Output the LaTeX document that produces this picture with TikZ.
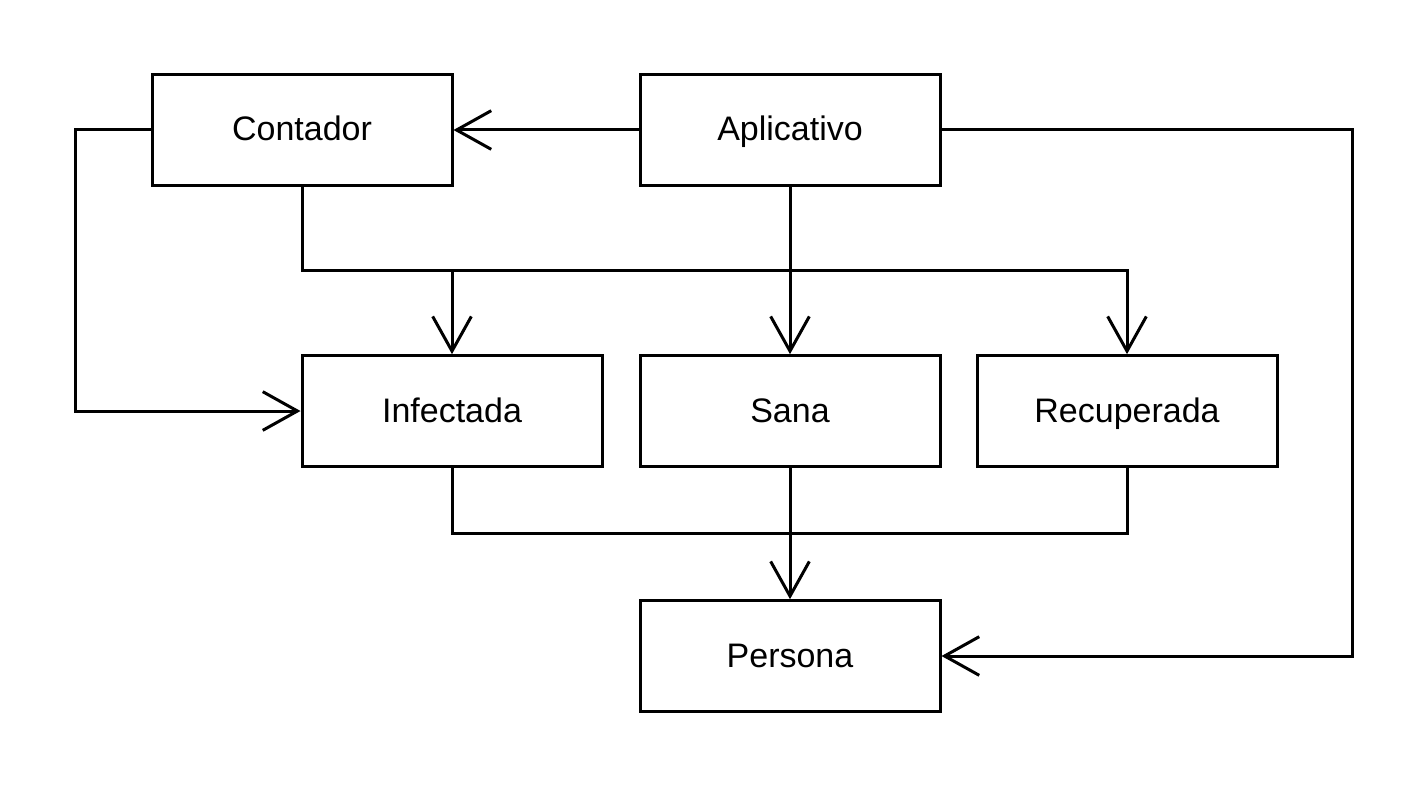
\documentclass[tikz,border=0pt]{standalone}
\usepackage{fontspec}
\setmainfont{Liberation Sans}
\usetikzlibrary{arrows.meta}
\begin{document}
\begin{tikzpicture}[x=0.75pt,y=-0.75pt,
  box/.style={draw,line width=2.25pt,rectangle,minimum width=225pt,minimum height=83pt,inner sep=0pt,text height=20pt,text depth=3.5pt,font=\fontsize{25.5}{30}\selectfont},
  wire/.style={line width=2.25pt},
  conn/.style={wire,-{Straight Barb[length=26pt,width=29pt,line width=2.25pt]}}]
\useasboundingbox (0,0) rectangle (1427,788);
\node[box] (cont) at (302,130) {Contador};
\node[box] (apl) at (790,130) {Aplicativo};
\node[box] (inf) at (452,411) {Infectada};
\node[box] (sana) at (790,411) {Sana};
\node[box] (rec) at (1127,411) {Recuperada};
\node[box] (pers) at (790,656) {Persona};
\coordinate (lft) at (75,130);
\coordinate (rgt) at (1352,130);
\coordinate (top) at (302,270);
\coordinate (bot) at (452,533);
\draw[conn] (apl.west) -- (cont.east);
\draw[conn] (cont.west) -- (lft) |- (inf.west);
\draw[conn] (cont.south) -- (top) -| (rec.north);
\draw[conn] (inf.north |- top) -- (inf.north);
\draw[conn] (apl.south) -- (sana.north);
\draw[conn] (apl.east) -- (rgt) |- (pers.east);
\draw[wire] (inf.south) -- (bot) -| (rec.south);
\draw[conn] (sana.south) -- (pers.north);
\end{tikzpicture}
\end{document}
